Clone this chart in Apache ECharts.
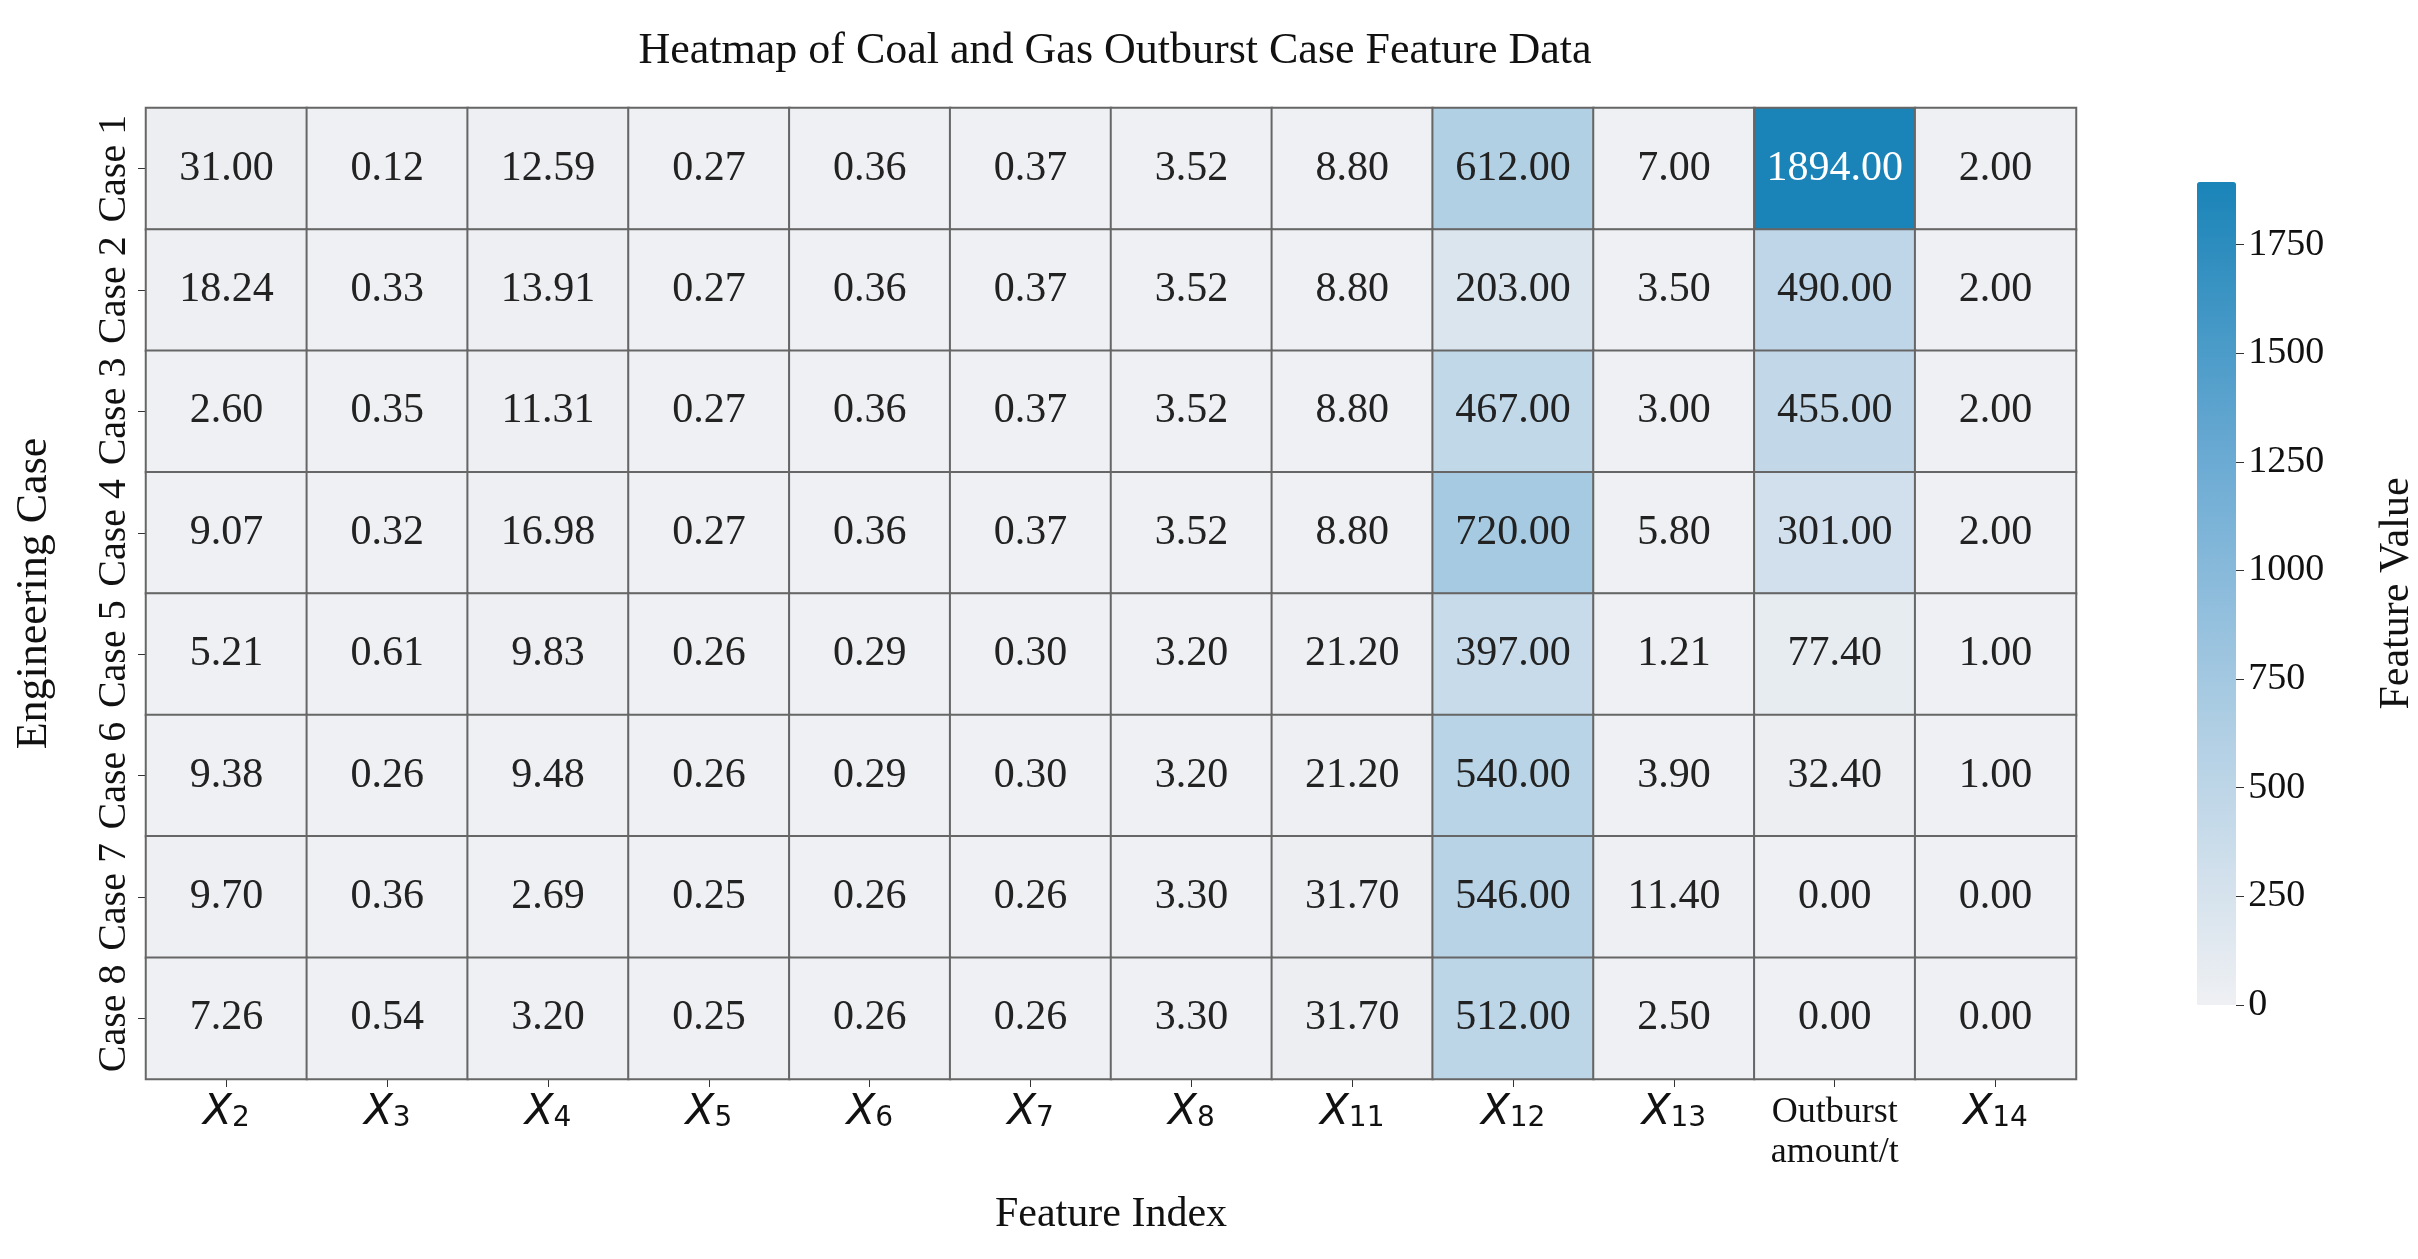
<!DOCTYPE html>
<html><head><meta charset="utf-8">
<script src="https://cdn.jsdelivr.net/npm/echarts@6/dist/echarts.min.js"></script>
<style>html,body{margin:0;padding:0;background:#fff}#c{width:2418px;height:1259px}</style>
</head><body><div id="c"></div>
<script>
const features = ['X|2','X|3','X|4','X|5','X|6','X|7','X|8','X|11','X|12','X|13','Outburst\namount/t','X|14'];
const cases = ['Case 1','Case 2','Case 3','Case 4','Case 5','Case 6','Case 7','Case 8'];
const case1 = [31.00,0.12,12.59,0.27,0.36,0.37,3.52,8.80,612.00,7.00,1894.00,2.00];
const case2 = [18.24,0.33,13.91,0.27,0.36,0.37,3.52,8.80,203.00,3.50,490.00,2.00];
const case3 = [2.60,0.35,11.31,0.27,0.36,0.37,3.52,8.80,467.00,3.00,455.00,2.00];
const case4 = [9.07,0.32,16.98,0.27,0.36,0.37,3.52,8.80,720.00,5.80,301.00,2.00];
const case5 = [5.21,0.61,9.83,0.26,0.29,0.30,3.20,21.20,397.00,1.21,77.40,1.00];
const case6 = [9.38,0.26,9.48,0.26,0.29,0.30,3.20,21.20,540.00,3.90,32.40,1.00];
const case7 = [9.70,0.36,2.69,0.25,0.26,0.26,3.30,31.70,546.00,11.40,0.00,0.00];
const case8 = [7.26,0.54,3.20,0.25,0.26,0.26,3.30,31.70,512.00,2.50,0.00,0.00];
const rows = [case1,case2,case3,case4,case5,case6,case7,case8];
const colorTicks = [0,250,500,750,1000,1250,1500,1750];
const vmax = 1894;

const data = [];
rows.forEach((r,i)=>r.forEach((v,j)=>data.push({value:[j,i,v],
  label:{color: v>1500?'#fff':'#222'}})));

const chart = echarts.init(document.getElementById('c'));
const serif = 'Liberation Serif';
chart.setOption({
  animation:false,
  backgroundColor:'#fff',
  title:{text:'Heatmap of Coal and Gas Outburst Case Feature Data',left:1110,top:24,textAlign:'center',
    textStyle:{fontFamily:serif,fontSize:44,fontWeight:'normal',color:'#111'}},
  grid:[{left:146,top:108,width:1930,height:971},
        {left:2236,top:182,width:1,height:823}],
  xAxis:[{type:'category',data:features,gridIndex:0,position:'bottom',
    axisLine:{show:false},axisTick:{show:true,alignWithLabel:true,interval:0,length:8,lineStyle:{color:'#333'}},
    axisLabel:{margin:14,interval:0,fontFamily:serif,fontSize:36,color:'#111',lineHeight:40,
      formatter:v=>{ if(v.indexOf('|')>0){const p=v.split('|');return '{x|'+p[0]+'}{s|'+p[1]+'}';} return v;},
      rich:{x:{fontFamily:'DejaVu Sans',fontStyle:'italic',fontSize:42,color:'#111'},
            s:{fontFamily:'DejaVu Sans',fontSize:28,color:'#111',verticalAlign:'bottom',padding:[20,0,0,0]}}},
    name:'Feature Index',nameLocation:'middle',nameGap:115,
    nameTextStyle:{fontFamily:serif,fontSize:42,color:'#111'}},
    {type:'value',gridIndex:1,show:false,min:0,max:1}],
  yAxis:[{type:'category',data:cases,inverse:true,gridIndex:0,
    axisLine:{show:false},axisTick:{show:true,alignWithLabel:true,interval:0,length:8,lineStyle:{color:'#333'}},
    axisLabel:{rotate:90,margin:12,interval:0,fontFamily:serif,fontSize:40,color:'#111'},
    name:'Engineering Case',nameLocation:'middle',nameGap:90,nameRotate:90,
    nameTextStyle:{fontFamily:serif,fontSize:44,color:'#111'}},
    {type:'value',gridIndex:1,position:'right',min:0,max:vmax,interval:250,
    axisLine:{show:false},axisTick:{show:true,length:8,lineStyle:{color:'#333'}},splitLine:{show:false},
    axisLabel:{margin:12,fontFamily:serif,fontSize:38,color:'#111',showMaxLabel:false,formatter:v=>String(v)},
    name:'Feature Value',nameLocation:'middle',nameGap:140,nameRotate:90,
    nameTextStyle:{fontFamily:serif,fontSize:42,color:'#111'}}],
  visualMap:{type:'continuous',min:0,max:vmax,seriesIndex:0,calculable:false,padding:0,
    left:2197,top:182,itemWidth:39,itemHeight:823,text:['',''],showLabel:false,
    inRange:{color:['#eff0f3','#b0cfe4','#6aaad3','#1a84b8']}},
  series:[{type:'heatmap',data:data,
    label:{show:true,fontFamily:serif,fontSize:42,formatter:p=>p.value[2].toFixed(2)},
    itemStyle:{borderColor:'#666',borderWidth:2}}]
});
</script></body></html>
